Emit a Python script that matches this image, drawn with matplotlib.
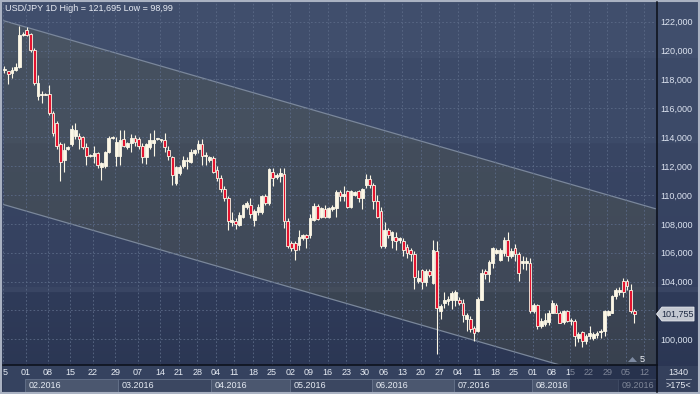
import datetime as dt
import numpy as np
import matplotlib
matplotlib.use("Agg")
import matplotlib.pyplot as plt
from matplotlib.patches import Rectangle, Polygon
from matplotlib.lines import Line2D
import matplotlib.transforms as mtransforms

plt.rcParams['font.family'] = ['Liberation Sans', 'DejaVu Sans']

# ---------------- data ----------------
title = "USD/JPY 1D High = 121,695 Low = 98,99"
last_price = 101.755
price_ticks = [100, 102, 104, 106, 108, 110, 112, 114, 116, 118, 120, 122]
total_bars = 1340
visible_bars = 175
shift_bars = 5

opens = [118.65, 118.55, 118.45, 118.65, 118.85, 121.05, 121.45, 121.15, 120.05, 116.85,
         116.95, 116.95, 117.0, 115.7, 115.0, 113.5, 112.4, 113.2, 113.5, 114.1,
         114.05, 114.0, 113.3, 112.7, 112.7, 112.9, 111.95, 112.0, 112.95, 113.95,
         112.7, 112.7, 113.9, 113.35, 113.6, 113.97, 113.85, 113.37, 112.6, 113.3,
         113.6, 113.85, 113.8, 113.8, 113.1, 112.6, 110.85, 111.55, 112.0, 112.35,
         112.3, 112.9, 113.2, 113.5, 112.7, 112.4, 112.55, 111.76, 111.2, 110.4,
         109.8, 108.1, 108.2, 107.9, 108.5, 109.2, 109.3, 108.3, 108.8, 108.8,
         109.9, 109.45, 111.6, 111.25, 111.3, 111.45, 108.2, 106.7, 106.7, 106.55,
         107.0, 107.2, 107.2, 108.3, 109.25, 108.5, 109.05, 108.5, 109.0, 109.1,
         110.2, 109.95, 110.25, 109.2, 110.0, 110.25, 109.8, 110.7, 111.1, 110.7,
         109.55, 108.9, 106.45, 107.6, 106.9, 107.1, 106.85, 106.8, 106.4, 106.2,
         105.9, 104.05, 104.8, 103.95, 104.7, 103.9, 106.15, 101.95, 102.5, 102.65,
         102.75, 102.75, 102.7, 102.5, 101.4, 101.4, 100.8, 100.6, 102.75, 104.7,
         104.5, 105.3, 106.0, 105.5, 106.0, 106.9, 105.75, 106.35, 105.9, 105.3,
         105.3, 105.3, 101.95, 102.35, 100.95, 101.05, 101.2, 101.85, 102.4, 101.85,
         101.2, 101.95, 101.3, 101.25, 100.1, 100.5, 99.9, 100.2, 100.1, 100.3,
         100.5, 100.55, 101.7, 101.85, 103.0, 103.25, 104.05, 104.05, 103.45, 101.95]
highs = [118.95, 118.6, 118.85, 119.15, 121.695, 121.25, 121.6, 121.2, 120.2, 118.3,
         117.2, 117.05, 117.6, 115.8, 115.1, 113.7, 113.6, 113.4, 114.85, 114.95,
         114.3, 114.1, 113.6, 112.85, 113.4, 113.0, 112.3, 113.05, 114.05, 114.05,
         114.0, 114.5, 114.5, 113.7, 114.2, 114.15, 114.0, 113.6, 113.6, 114.3,
         114.5, 113.95, 113.9, 114.3, 113.4, 112.7, 112.0, 112.1, 112.7, 112.6,
         113.2, 113.2, 113.8, 113.9, 112.95, 112.7, 112.7, 112.0, 111.4, 110.6,
         109.9, 108.8, 108.4, 108.85, 109.4, 109.6, 109.8, 109.0, 109.4, 110.0,
         110.1, 111.9, 111.9, 111.5, 111.9, 111.85, 108.4, 106.8, 106.8, 107.6,
         107.3, 107.3, 108.7, 109.45, 109.35, 109.2, 109.3, 109.2, 109.3, 110.35,
         110.35, 110.6, 110.35, 110.35, 110.3, 110.35, 110.5, 111.45, 111.35, 110.8,
         110.0, 109.2, 108.1, 107.7, 107.5, 107.4, 107.1, 107.0, 106.6, 106.35,
         106.1, 104.8, 104.85, 104.9, 104.9, 106.85, 106.8, 102.45, 103.25, 103.0,
         103.35, 103.4, 102.9, 102.8, 101.8, 101.6, 100.9, 102.9, 104.9, 104.85,
         105.5, 106.4, 106.3, 106.3, 107.1, 107.45, 106.3, 106.6, 106.05, 105.8,
         105.7, 105.6, 102.5, 102.45, 101.5, 101.85, 102.0, 102.7, 102.5, 101.95,
         102.05, 102.0, 101.5, 101.4, 100.5, 100.6, 100.35, 100.9, 100.5, 100.6,
         100.7, 102.05, 102.0, 103.1, 103.55, 103.6, 104.28, 104.2, 103.8, 102.1]
lows = [118.45, 117.7, 118.1, 118.6, 118.8, 121.0, 121.0, 119.9, 117.6, 116.6,
        116.4, 116.9, 115.55, 114.1, 113.2, 110.95, 111.6, 113.1, 113.4, 113.85,
        113.2, 113.2, 112.1, 112.6, 112.2, 111.9, 111.05, 111.9, 112.9, 113.9,
        112.0, 112.1, 113.3, 113.2, 113.0, 113.4, 113.2, 112.2, 112.15, 113.2,
        112.7, 113.8, 113.7, 113.0, 112.4, 110.7, 110.7, 111.4, 111.9, 111.8,
        112.2, 112.8, 112.9, 112.1, 112.1, 112.3, 111.5, 111.0, 110.2, 109.6,
        107.6, 107.85, 107.65, 107.85, 108.4, 109.0, 108.4, 107.85, 108.6, 108.7,
        109.3, 109.3, 110.6, 111.1, 110.9, 107.7, 106.3, 106.1, 105.5, 106.2,
        106.9, 106.3, 107.0, 108.2, 108.3, 108.4, 108.4, 108.4, 108.9, 108.45,
        109.6, 109.6, 109.1, 109.1, 109.9, 109.5, 109.0, 110.5, 110.5, 109.0,
        108.4, 106.35, 106.3, 107.0, 106.3, 106.2, 106.7, 105.75, 105.6, 105.4,
        103.5, 103.9, 103.5, 103.7, 104.3, 103.8, 98.99, 101.4, 102.2, 102.4,
        102.1, 102.3, 102.4, 101.2, 100.6, 100.5, 99.9, 100.5, 102.7, 104.2,
        103.95, 104.95, 105.9, 105.4, 105.75, 105.4, 105.6, 105.4, 104.05, 104.9,
        104.8, 101.8, 101.85, 100.7, 100.8, 100.95, 101.0, 101.8, 101.8, 101.1,
        101.05, 101.2, 101.0, 99.55, 99.8, 99.5, 99.7, 100.05, 99.95, 100.1,
        100.1, 100.2, 101.6, 101.8, 102.8, 103.1, 102.9, 103.4, 101.8, 101.15]
closes = [118.75, 118.35, 118.65, 118.85, 121.1, 121.15, 121.1, 120.05, 117.75, 117.75,
          117.0, 117.0, 115.7, 114.3, 113.4, 112.3, 113.1, 113.3, 114.6, 114.5,
          113.85, 113.3, 112.7, 112.75, 112.9, 112.1, 112.2, 113.0, 113.95, 114.0,
          113.7, 113.8, 113.4, 113.6, 113.97, 113.7, 113.4, 112.6, 113.5, 113.8,
          113.8, 113.9, 113.85, 113.3, 112.7, 111.4, 111.95, 111.95, 112.45, 112.45,
          113.0, 113.1, 113.5, 112.7, 112.8, 112.6, 111.6, 111.2, 110.4, 109.8,
          108.2, 108.3, 108.0, 108.6, 109.3, 109.45, 108.7, 108.9, 109.2, 109.9,
          109.45, 111.8, 111.2, 111.4, 111.5, 108.2, 106.45, 106.3, 106.2, 107.1,
          107.2, 107.0, 108.4, 109.25, 108.35, 109.1, 108.5, 109.1, 109.15, 110.2,
          109.9, 110.05, 109.2, 110.25, 110.2, 109.8, 110.4, 111.1, 110.7, 109.55,
          108.5, 106.45, 107.6, 107.2, 107.4, 106.8, 107.0, 106.2, 106.0, 105.9,
          104.3, 104.25, 103.95, 104.7, 104.45, 106.2, 102.2, 102.3, 102.75, 102.8,
          103.2, 103.3, 102.5, 101.7, 101.7, 100.7, 100.45, 102.8, 104.6, 104.5,
          105.35, 106.35, 106.2, 106.2, 106.9, 105.75, 106.1, 105.9, 104.6, 105.4,
          105.4, 101.95, 102.35, 100.9, 101.3, 101.35, 101.8, 102.55, 101.85, 101.15,
          101.95, 101.3, 101.35, 100.2, 100.35, 99.9, 100.25, 100.45, 100.35, 100.45,
          100.6, 101.95, 101.95, 103.0, 103.45, 103.45, 103.3, 103.7, 101.95, 101.755]

# trend channel anchors (bar index, price)
channel_x = [-0.3, 174.6]
channel_upper = [122.07, 109.05]
channel_lower = [109.34, 96.32]

# ---------------- bar calendar ----------------
bar_dates = []
d = dt.date(2016, 1, 25)
while d <= dt.date(2016, 9, 30):
    if d.weekday() < 5 or (d.weekday() == 6 and d < dt.date(2016, 3, 14)):
        bar_dates.append(d)
    d += dt.timedelta(days=1)

W, H = 700, 394
XMIN, XMAX = -0.4, 174.8
YMIN, YMAX = 98.26, 123.36

week_idx = [i for i, dd in enumerate(bar_dates) if dd.weekday() == 0 and i <= 174]
week_lbl = [bar_dates[i].strftime('%d') for i in week_idx]
month_idx = [i for i in range(1, len(bar_dates))
             if bar_dates[i].month != bar_dates[i - 1].month and i <= 174]
month_lbl = [f"{bar_dates[i].month:02d}.{bar_dates[i].year}" for i in month_idx]

fig = plt.figure(figsize=(W / 100, H / 100), dpi=100)

# background gradient
def lerp(a, b, t):
    return tuple(a[k] + (b[k] - a[k]) * t for k in range(3))
rows = []
for y in range(H):
    if y < 58:
        c = (64, 78, 108)
    elif y < 143:
        c = (60, 74, 104)
    elif y < 287:
        c = lerp((57, 70, 100), (52, 64, 95), (y - 143) / 144)
    elif y < 292:
        c = (57, 69, 99)
    else:
        c = lerp((47, 59, 89), (42, 53, 82), (y - 292) / 102)
    rows.append(c)
grad = np.array(rows, dtype=float).reshape(H, 1, 3) / 255.0
bg = fig.add_axes([0, 0, 1, 1], zorder=-10)
bg.imshow(grad, aspect='auto', extent=[0, 1, 0, 1], interpolation='nearest')
bg.set_axis_off()

# main price axes
ax = fig.add_axes([3 / W, (H - 364.5) / H, 653 / W, (364.5 - 2) / H], zorder=1)
ax.patch.set_alpha(0)
ax.set_xlim(XMIN, XMAX)
ax.set_ylim(YMIN, YMAX)
for s in ax.spines.values():
    s.set_visible(False)

ax.set_yticks(price_ticks)
# the 102,000 label sits under the last-price tag, as in the original terminal
ax.set_yticklabels(['' if abs(v - last_price) < 0.6 else f"{v:.3f}".replace('.', ',')
                    for v in price_ticks])
ax.yaxis.tick_right()
ax.tick_params(axis='y', length=0, pad=3, labelsize=6.5, labelcolor='#dce3f0')
ax.set_xticks([i - 0.3 for i in week_idx])
ax.tick_params(axis='x', length=0, labelbottom=False)
ax.set_axisbelow(False)
ax.grid(True, color='#5b6a87', lw=0.6, ls=(0, (2, 2.5)))

# channel
ax.fill_between(channel_x, channel_lower, channel_upper,
                color=(105 / 255, 105 / 255, 65 / 255), alpha=0.22, lw=0, zorder=1)
ax.plot(channel_x, channel_upper, color='#7a879b', lw=0.9, zorder=1.5)
ax.plot(channel_x, channel_lower, color='#7a879b', lw=0.9, zorder=1.5)

# candles
o = np.array(opens); h = np.array(highs); l = np.array(lows); c = np.array(closes)
x = np.arange(len(c))
up = c >= o
cream = '#fcf7e6'
red = '#e3132f'
ax.vlines(x, l, h, color=cream, lw=0.8, zorder=4)
body_bottom = np.minimum(o, c)
body_h = np.maximum(np.abs(c - o), 0.07)
ax.bar(x, body_h, bottom=body_bottom, width=0.74,
       color=np.where(up, cream, red), edgecolor=cream, linewidth=0.6, zorder=5)

# bottom date strip
axb = fig.add_axes([3 / W, 2 / H, 653 / W, 27 / H], zorder=1)
axb.set_xlim(XMIN, XMAX)
axb.set_ylim(0, 1)
axb.set_facecolor('#35425f')
axb.set_xticks([]); axb.set_yticks([])
for s in axb.spines.values():
    s.set_visible(False)
bounds = month_idx + [XMAX + 0.5]
for k, mi in enumerate(month_idx):
    x0 = mi - 0.5
    x1 = bounds[k + 1] - 0.5
    axb.add_patch(Rectangle((x0, 0.0), x1 - x0, 0.5,
                            facecolor='#4b576f' if k % 2 == 0 else '#3b4761',
                            edgecolor='#66738b', lw=0.6, zorder=1))
    axb.text(x0 + 1.0, 0.25, month_lbl[k], ha='left', va='center',
             fontsize=6.5, color='#e6ebf3', zorder=3, clip_on=True)
for i, lb in zip(week_idx, week_lbl):
    if i == 0:
        # first label is cut by the left border; only its last digit shows
        axb.text(i + 0.3, 0.74, lb[-1], ha='center', va='center', fontsize=6.5,
                 color='#e6ebf3', zorder=3)
        continue
    axb.text(i - 0.3, 0.74, lb, ha='center', va='center', fontsize=6.5,
             color='#e6ebf3', zorder=3, clip_on=True)
axb.axvspan(151.7, XMAX, color='#1a233d', alpha=0.5, lw=0, zorder=4)

# overlay in pixel coordinates
ov = fig.add_axes([0, 0, 1, 1], zorder=5)
ov.set_xlim(0, W); ov.set_ylim(H, 0)
ov.set_axis_off()
ov.patch.set_alpha(0)
ov.add_line(Line2D([656.5, 656.5], [2, 392], color='#0b0f18', lw=1.1))
ov.add_line(Line2D([3, 656.5], [365, 365], color='#0b0f18', lw=1.1))
ov.add_patch(Rectangle((657.5, 366), 40.5, 26, facecolor='#34405c', lw=0))
ov.text(678, 372.5, str(total_bars), ha='center', va='center', fontsize=6.5, color='#e4e8f0')
ov.add_line(Line2D([666, 691], [379, 379], color='#9aa4b5', lw=0.6))
ov.text(678, 386, f">{visible_bars}<", ha='center', va='center', fontsize=6.5, color='#e4e8f0')
ov.text(5, 8.5, title, ha='left', va='center', fontsize=6.5, color='#e8ecf4')
ov.add_patch(Polygon([[628, 362], [632.5, 357], [637, 362]], closed=True,
                     facecolor='#7d8aa1', lw=0))
ov.text(642.5, 359, str(shift_bars), ha='center', va='center', fontsize=6.5, color='#f0f3f8')
ov.add_patch(Rectangle((0.75, 0.75), W - 1.5, H - 1.5, fill=False,
                       edgecolor='#aab2c2', lw=1.5))

# last price tag (x in pixels, y in price units)
tr = mtransforms.blended_transform_factory(ov.transData, ax.transData)
hh = 0.48
ov.add_patch(Polygon([[656.5, last_price], [662, last_price + hh], [694, last_price + hh],
                      [694, last_price - hh], [662, last_price - hh]], closed=True,
                     facecolor='#c3c8d1', edgecolor='#e8ebf0', lw=0.6, transform=tr,
                     clip_on=False, zorder=6))
ov.text(678, last_price, f"{last_price:.3f}".replace('.', ','), transform=tr,
        ha='center', va='center', fontsize=6.5, color='#1d2942', zorder=7)

fig.savefig('out.png', dpi=100)
